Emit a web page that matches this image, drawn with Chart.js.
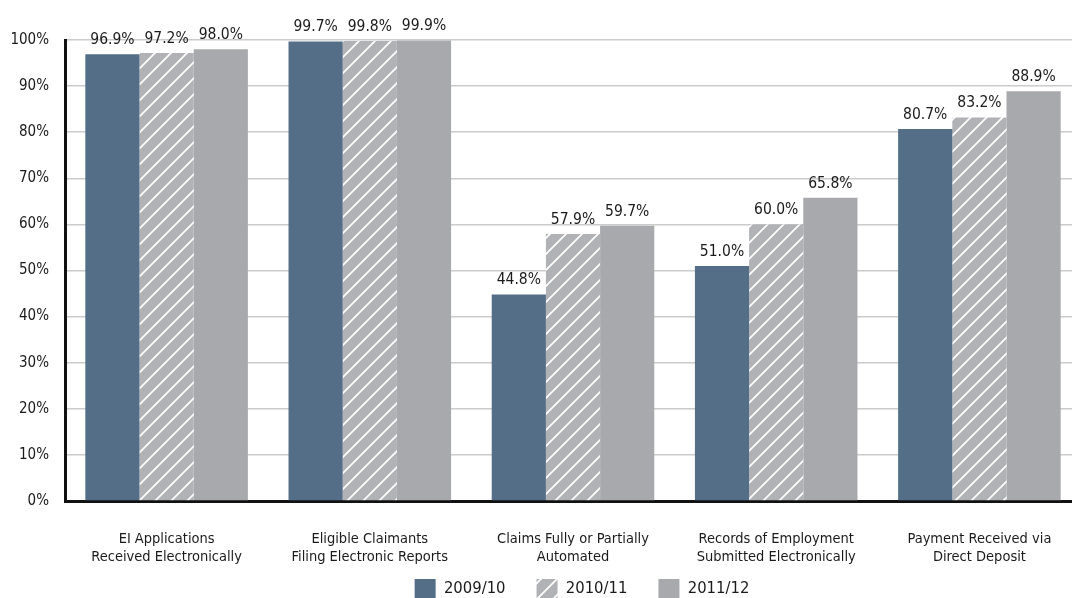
<!DOCTYPE html>
<html>
<head>
<meta charset="utf-8">
<script src="https://cdn.jsdelivr.net/npm/chart.js@4"></script>
<style>
  html, body { margin: 0; padding: 0; background: #fff; overflow: hidden; }
  #wrap { width: 1081px; height: 598px; }
</style>
</head>
<body>
<div id="wrap"><canvas id="chart" width="1081" height="598"></canvas></div>
<script>
// categories and values
const categories = [
  ['EI Applications', 'Received Electronically'],
  ['Eligible Claimants', 'Filing Electronic Reports'],
  ['Claims Fully or Partially', 'Automated'],
  ['Records of Employment', 'Submitted Electronically'],
  ['Payment Received via', 'Direct Deposit']
];
const seriesNames = ['2009/10', '2010/11', '2011/12'];
const values0910 = [96.9, 99.7, 44.8, 51.0, 80.7];
const values1011 = [97.2, 99.8, 57.9, 60.0, 83.2];
const values1112 = [98.0, 99.9, 59.7, 65.8, 88.9];

const FONT = "'Liberation Sans Narrow', 'DejaVu Sans Condensed', sans-serif";

// striped fill for the middle series
function makeHatch() {
  const size = 16;
  const c = document.createElement('canvas');
  c.width = size; c.height = size;
  const g = c.getContext('2d');
  g.fillStyle = '#b0b2b5';
  g.fillRect(0, 0, size, size);
  g.strokeStyle = '#ffffff';
  g.lineWidth = 1.7;
  g.beginPath();
  g.moveTo(-2, size + 2); g.lineTo(size + 2, -2);
  g.moveTo(-2, 2); g.lineTo(2, -2);
  g.moveTo(size - 2, size + 2); g.lineTo(size + 2, size - 2);
  g.stroke();
  return g.createPattern(c, 'repeat');
}

const valueLabels = {
  id: 'valueLabels',
  afterDatasetsDraw(chart) {
    const ctx = chart.ctx;
    ctx.save();
    ctx.font = '15.5px ' + FONT;
    ctx.fillStyle = '#1a1a1a';
    ctx.textAlign = 'center';
    ctx.textBaseline = 'alphabetic';
    chart.data.datasets.forEach((ds, i) => {
      chart.getDatasetMeta(i).data.forEach((bar, j) => {
        ctx.fillText(ds.data[j].toFixed(1) + '%', bar.x, bar.y - 10);
      });
    });
    ctx.restore();
  }
};

// fixed legend height so it sits flush at the bottom, nudged right like the reference
const legendFit = {
  id: 'legendFit',
  afterInit(chart) {
    const lg = chart.legend;
    const fit = lg.fit;
    lg.fit = function () {
      fit.call(this);
      this.height = 50;
      if (this.lineWidths && this.lineWidths.length) this.lineWidths[0] -= 83;
    };
  }
};

const ctx = document.getElementById('chart').getContext('2d');

new Chart(ctx, {
  type: 'bar',
  data: {
    labels: categories,
    datasets: [
      { label: seriesNames[0], data: values0910, backgroundColor: '#546e87' },
      { label: seriesNames[1], data: values1011, backgroundColor: makeHatch() },
      { label: seriesNames[2], data: values1112, backgroundColor: '#a8a9ad' }
    ]
  },
  options: {
    responsive: false,
    animation: false,
    categoryPercentage: 0.8,
    barPercentage: 1.0,
    layout: { padding: { top: 40, left: 0, right: 0, bottom: 0 } },
    scales: {
      x: {
        afterFit(scale) {
          scale.height = 47;
          scale.paddingLeft = 0;
          scale.paddingRight = 0;
          // let the two-line labels run below the axis box
          scale._computeLabelArea = () => undefined;
        },
        grid: { display: false, drawTicks: false },
        border: { color: '#111', width: 3 },
        ticks: {
          color: '#1a1a1a',
          font: { family: FONT, size: 14.5, lineHeight: 1.24 },
          padding: 29,
          maxRotation: 0,
          autoSkip: false
        }
      },
      y: {
        min: 0,
        max: 100,
        afterFit(scale) { scale.width = 65; },
        grid: { color: '#cbcbcb', lineWidth: 1.5, drawTicks: false },
        border: { color: '#111', width: 3 },
        ticks: {
          stepSize: 10,
          padding: 16,
          color: '#1a1a1a',
          font: { family: FONT, size: 15 },
          callback: v => v + '%'
        }
      }
    },
    plugins: {
      legend: {
        position: 'bottom',
        labels: {
          boxWidth: 21,
          boxHeight: 20,
          padding: 31,
          color: '#1a1a1a',
          font: { family: FONT, size: 16.5 }
        }
      },
      tooltip: { enabled: false }
    }
  },
  plugins: [valueLabels, legendFit]
});
</script>
</body>
</html>
